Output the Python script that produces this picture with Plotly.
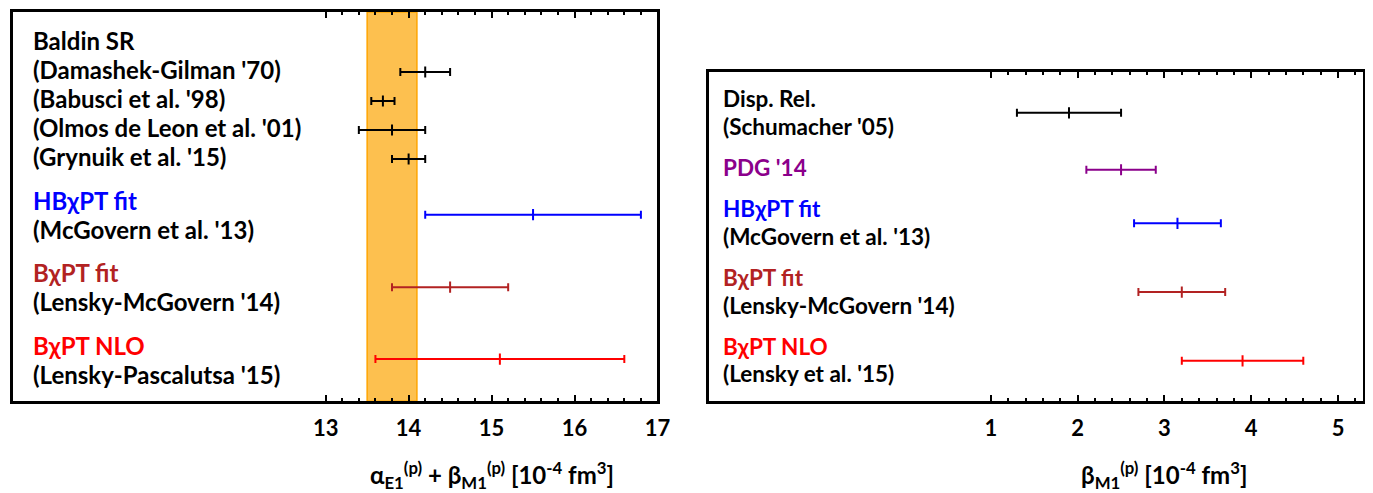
import plotly.graph_objects as go

# ---------------- data ----------------
# Left panel: alpha_E1 + beta_M1 (proton) [10^-4 fm^3]
left_refs = ["(Damashek-Gilman '70)", "(Babusci et al. '98)", "(Olmos de Leon et al. '01)",
             "(Grynuik et al. '15)", "(McGovern et al. '13)", "(Lensky-McGovern '14)",
             "(Lensky-Pascalutsa '15)"]
left_vals = [14.2, 13.69, 13.8, 14.0, 15.5, 14.5, 15.1]
left_errs = [0.3, 0.14, 0.4, 0.2, 1.3, 0.7, 1.5]
left_colors = ["black", "black", "black", "black", "#0000ff", "#b22222", "#ff0000"]
band_center = 13.8
band_err = 0.3

# Right panel: beta_M1 (proton) [10^-4 fm^3]
right_refs = ["(Schumacher '05)", "PDG '14", "(McGovern et al. '13)", "(Lensky-McGovern '14)",
              "(Lensky et al. '15)"]
right_vals = [1.9, 2.5, 3.15, 3.2, 3.9]
right_errs = [0.6, 0.4, 0.5, 0.5, 0.7]
right_colors = ["black", "#8b008b", "#0000ff", "#b22222", "#ff0000"]

left_ticks = [13, 14, 15, 16, 17]
right_ticks = [1, 2, 3, 4, 5]

# ---------------- layout helpers ----------------
W, H = 1373, 493
FONT = "Lato"

# text lines: (text, color, row)
left_lines = [("Baldin SR", "black", 0), (left_refs[0], "black", 1), (left_refs[1], "black", 2),
              (left_refs[2], "black", 3), (left_refs[3], "black", 4),
              ("HBχPT fit", "#0000ff", 5.5), (left_refs[4], "black", 6.5),
              ("BχPT fit", "#b22222", 8), (left_refs[5], "black", 9),
              ("BχPT NLO", "#ff0000", 10.5), (left_refs[6], "black", 11.5)]
left_bar_rows = [1, 2, 3, 4, 5.92, 8.42, 10.9]

right_lines = [("Disp. Rel.", "black", 0), (right_refs[0], "black", 1),
               (right_refs[1], "#8b008b", 2.5),
               ("HBχPT fit", "#0000ff", 4), (right_refs[2], "black", 5),
               ("BχPT fit", "#b22222", 6.5), (right_refs[3], "black", 7.5),
               ("BχPT NLO", "#ff0000", 9), (right_refs[4], "black", 10)]
right_bar_rows = [0.43, 2.5, 4.45, 6.95, 9.45]
TEXT_SHIFT = -0.08  # small upward nudge of label lines (in row units)

fig = go.Figure()


def add_bars(vals, errs, colors, rows, xa, ya):
    for v, e, c, r in zip(vals, errs, colors, rows):
        fig.add_trace(go.Scatter(
            x=[v], y=[r], mode="markers", xaxis=xa, yaxis=ya,
            marker=dict(symbol="line-ns", size=8, line=dict(color=c, width=2), color=c),
            error_x=dict(type="data", array=[e], symmetric=True, color=c,
                         thickness=2, width=4),
            showlegend=False, hoverinfo="skip"))


add_bars(left_vals, left_errs, left_colors, left_bar_rows, "x", "y")
add_bars(right_vals, right_errs, right_colors, right_bar_rows, "x2", "y2")

# Baldin band
fig.add_shape(type="rect", xref="x", yref="y domain",
              x0=band_center - band_err, x1=band_center + band_err, y0=0, y1=1,
              fillcolor="#fdc04f", line=dict(color="#ffa500", width=1.5), layer="below")

annos = []
for txt, col, row in left_lines:
    annos.append(dict(text=txt, x=23 / W, xref="paper", y=row + TEXT_SHIFT, yref="y",
                      xanchor="left", yanchor="middle", showarrow=False,
                      font=dict(family=FONT, size=24, color=col, weight="bold")))
for txt, col, row in right_lines:
    annos.append(dict(text=txt, x=720 / W, xref="paper", y=row + TEXT_SHIFT, yref="y2",
                      xanchor="left", yanchor="middle", showarrow=False,
                      font=dict(family=FONT, size=22.5, color=col, weight="bold")))

annos.append(dict(text="α<sub>E1</sub><sup>(p)</sup> + β<sub>M1</sub><sup>(p)</sup> [10<sup>-4</sup> fm<sup>3</sup>]",
                  x=15, xref="x", y=(H - 467) / H, yref="paper", xanchor="center", yanchor="middle",
                  showarrow=False, font=dict(family=FONT, size=24, color="black", weight="bold")))
annos.append(dict(text="β<sub>M1</sub><sup>(p)</sup> [10<sup>-4</sup> fm<sup>3</sup>]",
                  x=3, xref="x2", y=(H - 467) / H, yref="paper", xanchor="center", yanchor="middle",
                  showarrow=False, font=dict(family=FONT, size=24, color="black", weight="bold")))

xcommon = dict(showline=True, linecolor="black", linewidth=3, mirror="allticks",
               ticks="inside", ticklen=6, tickwidth=2, tickcolor="black",
               showgrid=False, zeroline=False,
               tickfont=dict(family=FONT, size=22, color="black", weight="bold"),
               ticklabelstandoff=5)
ycommon = dict(showline=True, linecolor="black", linewidth=3, mirror=True,
               showticklabels=False, ticks="", showgrid=False, zeroline=False)

fig.update_layout(
    width=W, height=H, margin=dict(l=0, r=0, t=0, b=0),
    paper_bgcolor="white", plot_bgcolor="white",
    xaxis=dict(domain=[5 / W, 655.7 / W], range=[9.2305, 17.0], anchor="y",
               tickvals=left_ticks,
               minor=dict(tickvals=[round(13 + 0.2 * i, 1) for i in range(1, 20) if i % 5],
                          ticks="inside", ticklen=3, tickwidth=2, tickcolor="black"),
               **xcommon),
    yaxis=dict(domain=[(H - 393.3) / H, (H - 4) / H], range=[12.355, -1.069], anchor="x",
               **ycommon),
    xaxis2=dict(domain=[707.3 / W, 1368.3 / W], range=[-2.253, 5.292], anchor="y2",
                tickvals=right_ticks,
                minor=dict(tickvals=[round(1 + 0.2 * i, 1) for i in range(1, 22) if i % 5],
                           ticks="inside", ticklen=3, tickwidth=2, tickcolor="black"),
                **xcommon),
    yaxis2=dict(domain=[(H - 393.3) / H, (H - 64) / H], range=[10.92, -1.0545], anchor="x2",
                **ycommon),
    annotations=annos,
)

fig.write_html("out.html")
